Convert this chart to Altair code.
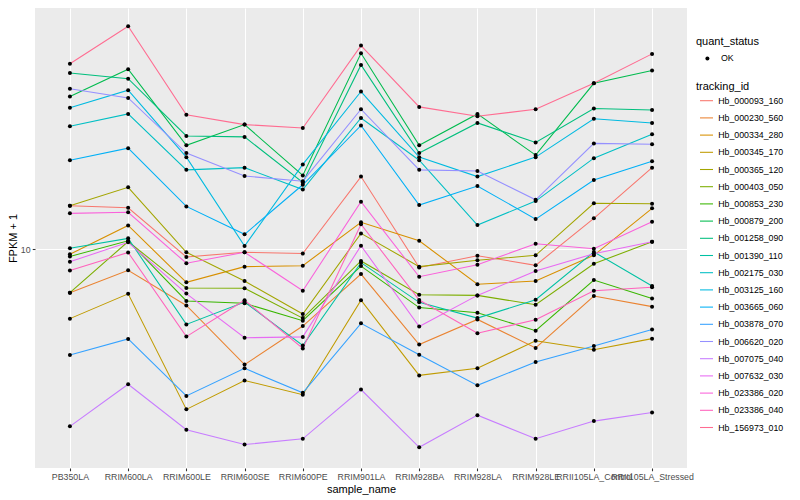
import altair as alt
import pandas as pd

samples = ["PB350LA", "RRIM600LA", "RRIM600LE", "RRIM600SE", "RRIM600PE", "RRIM901LA",
           "RRIM928BA", "RRIM928LA", "RRIM928LE", "RRII105LA_Control", "RRII105LA_Stressed"]

tracking_ids = ["Hb_000093_160", "Hb_000230_560", "Hb_000334_280", "Hb_000345_170",
                "Hb_000365_120", "Hb_000403_050", "Hb_000853_230", "Hb_000879_200",
                "Hb_001258_090", "Hb_001390_110", "Hb_002175_030", "Hb_003125_160",
                "Hb_003665_060", "Hb_003878_070", "Hb_006620_020", "Hb_007075_040",
                "Hb_007632_030", "Hb_023386_020", "Hb_023386_040", "Hb_156973_010"]

palette = ["#F8766D", "#EA8331", "#D89000", "#C09B00", "#A3A500", "#7CAE00", "#39B600",
           "#00BB4E", "#00BF7D", "#00C1A3", "#00BFC4", "#00BAE0", "#00B0F6", "#35A2FF",
           "#9590FF", "#C77CFF", "#E76BF3", "#FA62DB", "#FF62BC", "#FF6C91"]

# FPKM + 1 per sample (same order as samples)
Hb_000093_160 = [12.85, 12.70, 9.57, 9.83, 9.76, 15.20, 9.01, 9.64, 9.12, 11.95, 16.00]
Hb_000230_560 = [7.79, 8.86, 7.24, 5.15, 6.43, 8.67, 5.78, 6.68, 5.67, 7.64, 7.19]
Hb_000334_280 = [9.72, 11.47, 8.27, 9.05, 9.10, 11.68, 10.50, 8.18, 8.33, 9.66, 12.66]
Hb_000345_170 = [6.71, 7.74, 3.98, 4.70, 4.33, 7.46, 4.84, 5.04, 5.91, 5.61, 5.98]
Hb_000365_120 = [12.85, 14.29, 9.83, 8.33, 6.89, 10.96, 9.05, 9.39, 9.66, 13.03, 13.00]
Hb_000403_050 = [7.79, 10.46, 8.00, 7.99, 6.73, 9.35, 7.70, 7.67, 7.27, 9.20, 10.45]
Hb_000853_230 = [9.60, 10.50, 7.43, 7.33, 6.63, 9.08, 7.15, 6.94, 6.26, 8.38, 7.53]
Hb_000879_200 = [24.1, 28.2, 18.2, 20.5, 15.3, 30.9, 18.2, 21.8, 17.2, 26.0, 28.0]
Hb_001258_090 = [27.6, 26.7, 19.2, 19.1, 14.7, 28.9, 17.4, 20.7, 18.5, 22.5, 22.3]
Hb_001390_110 = [10.06, 10.65, 6.49, 7.38, 5.75, 9.26, 7.37, 6.73, 7.48, 9.85, 8.10]
Hb_002175_030 = [20.3, 21.8, 15.8, 16.0, 14.1, 21.3, 16.7, 11.5, 13.2, 16.9, 19.4]
Hb_003125_160 = [22.6, 25.0, 17.0, 10.19, 16.3, 24.8, 17.0, 15.2, 17.0, 21.2, 20.7]
Hb_003665_060 = [16.7, 17.9, 12.8, 10.9, 14.5, 20.4, 12.9, 14.4, 11.9, 14.9, 16.6]
Hb_003878_070 = [5.44, 5.97, 4.30, 5.04, 4.38, 6.53, 5.45, 4.57, 5.23, 5.73, 6.30]
Hb_006620_020 = [25.2, 23.9, 17.4, 15.25, 14.8, 22.4, 15.8, 15.7, 13.3, 18.4, 18.3]
Hb_007075_040 = [3.61, 4.60, 3.54, 3.25, 3.36, 4.46, 3.20, 3.85, 3.36, 3.72, 3.91]
Hb_007632_030 = [9.31, 10.41, 7.75, 6.01, 6.04, 10.21, 6.41, 7.67, 8.83, 9.75, 10.45]
Hb_023386_020 = [12.30, 12.38, 9.23, 9.83, 7.88, 13.15, 8.54, 9.15, 10.33, 10.03, 11.72]
Hb_023386_040 = [8.85, 9.82, 6.05, 7.46, 5.65, 11.55, 7.47, 6.17, 6.67, 7.88, 8.04]
Hb_156973_010 = [29.1, 36.1, 21.7, 20.5, 20.1, 32.3, 22.7, 21.5, 22.4, 26.0, 30.8]

series = [Hb_000093_160, Hb_000230_560, Hb_000334_280, Hb_000345_170, Hb_000365_120,
          Hb_000403_050, Hb_000853_230, Hb_000879_200, Hb_001258_090, Hb_001390_110,
          Hb_002175_030, Hb_003125_160, Hb_003665_060, Hb_003878_070, Hb_006620_020,
          Hb_007075_040, Hb_007632_030, Hb_023386_020, Hb_023386_040, Hb_156973_010]

rows = []
for tid, vals in zip(tracking_ids, series):
    for s, v in zip(samples, vals):
        rows.append({"tracking_id": tid, "sample_name": s, "fpkm": v, "quant_status": "OK"})
df = pd.DataFrame(rows)

FONT = "Liberation Sans"

x = alt.X("sample_name:N", sort=samples,
          scale=alt.Scale(type="point", padding=0.6),
          axis=alt.Axis(title="sample_name", labelAngle=0, labelOverlap=False,
                        labelBound=False, labelFlush=False, titlePadding=2))
y = alt.Y("fpkm:Q",
          scale=alt.Scale(type="log", domain=[2.840, 40.11], nice=False, zero=False),
          axis=alt.Axis(title="FPKM + 1", values=[10], format="d", titlePadding=2))

lines = alt.Chart(df).mark_line(strokeWidth=1.07).encode(
    x=x, y=y,
    color=alt.Color("tracking_id:N",
                    scale=alt.Scale(domain=tracking_ids, range=palette),
                    legend=alt.Legend(title="tracking_id", orient="none", legendX=661, legendY=73,
                                      symbolType="stroke", symbolSize=169, symbolStrokeWidth=1.07,
                                      symbolOffset=3, labelOffset=4.2, rowPadding=4.2,
                                      titlePadding=1.2, padding=0)),
)

points = alt.Chart(df).mark_point(filled=True, size=16, color="black", opacity=1).encode(
    x=x, y=y,
    shape=alt.Shape("quant_status:N",
                    scale=alt.Scale(domain=["OK"], range=["circle"]),
                    legend=alt.Legend(title="quant_status", orient="none", legendX=661, legendY=28,
                                      symbolSize=16, symbolFillColor="black",
                                      symbolStrokeColor="black", symbolOffset=7,
                                      labelOffset=9.2, titlePadding=7, padding=0)),
)

chart = alt.layer(lines, points).properties(
    width=652, height=460,
    autosize=alt.AutoSizeParams(type="none"),
    padding={"left": 27, "top": 0, "right": 105, "bottom": 30},
    background="white",
).configure_view(
    fill="#EBEBEB", stroke=None
).configure_axis(
    domain=False, grid=True, gridColor="white", gridWidth=1.07,
    tickColor="#333333", tickWidth=1.07, tickSize=2.75,
    labelColor="#4D4D4D", labelFontSize=8.8, labelFont=FONT, labelPadding=2.2,
    titleColor="black", titleFontSize=11, titleFont=FONT, titleFontWeight="normal",
).configure_legend(
    titleFont=FONT, titleFontSize=11, titleFontWeight="normal", titleColor="black",
    labelFont=FONT, labelFontSize=8.8, labelColor="black",
)

chart.save("out.html", embed_options={"renderer": "svg", "actions": False})
